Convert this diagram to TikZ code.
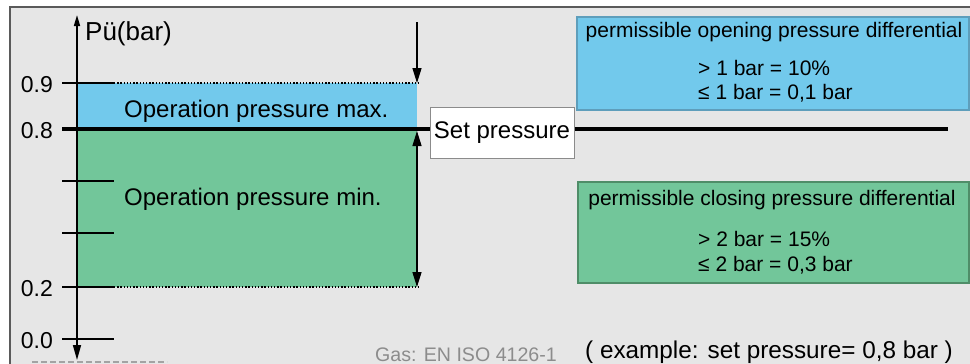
\documentclass[tikz,border=0pt]{standalone}
\usepackage{fontspec}
\setmainfont{Liberation Sans}
\usetikzlibrary{arrows.meta}
\definecolor{bg}{HTML}{E6E6E6}
\definecolor{frame}{HTML}{5A5A5A}
\definecolor{maxfill}{HTML}{72C9EC}
\definecolor{minfill}{HTML}{72C69A}
\definecolor{maxedge}{HTML}{5E9EBB}
\definecolor{minedge}{HTML}{4F8D68}
\definecolor{muted}{HTML}{8C8C8C}
\tikzset{
  frameline/.style={draw=frame, line width=1.2pt},
  axis/.style={draw=black, line width=1.6pt, {Triangle[length=15pt,width=8pt]}-{Triangle[length=11pt,width=6pt]}},
  tick/.style={draw=black, line width=1.6pt},
  setline/.style={draw=black, line width=4pt},
  limit/.style={draw=black, line width=1.4pt, dash pattern=on 1.4pt off 1.8pt},
  span/.style={draw=black, line width=1.4pt, -{Triangle[length=15pt,width=9pt]}},
  spanboth/.style={draw=black, line width=1.4pt, {Triangle[length=15pt,width=9pt]}-{Triangle[length=15pt,width=9pt]}},
  zero/.style={draw=muted!80, line width=1.5pt, dash pattern=on 6pt off 3pt},
  lab/.style={text=black, inner sep=0pt, font=\fontsize{24}{28}\selectfont},
  num/.style={text=black, inner sep=0pt, font=\fontsize{23}{27}\selectfont},
  info/.style={text=black, inner sep=0pt, font=\fontsize{21}{25}\selectfont},
  tag/.style={draw=frame!70, fill=white, line width=1pt, minimum width=144pt, minimum height=51pt, inner sep=0pt, font=\fontsize{24}{28}\selectfont},
  maxbox/.style={draw=maxedge, fill=maxfill, line width=1.2pt, minimum width=392pt, minimum height=93pt},
  minbox/.style={draw=minedge, fill=minfill, line width=1.2pt, minimum width=391pt, minimum height=101pt},
}
\begin{document}
\begin{tikzpicture}[x=1pt,y=-1pt]
  \useasboundingbox (0,0) rectangle (970,364);
  \fill[bg] (10,7) rectangle (975,370);
  \draw[frameline] (10,370) -- (10,7) -- (975,7);
  % bands
  \fill[maxfill] (77,83) rectangle (417,129);
  \fill[minfill] (77,129) rectangle (417,287);
  \draw[limit] (114,83) -- (421,83);
  \draw[limit] (114,287) -- (421,287);
  \foreach \y in {83,181,233,287,339} \draw[tick] (62,\y) -- (114,\y);
  \foreach \y/\v in {83/0.9,129/0.8,287/0.2,339/0.0}
    \node[num, anchor=base east] (n\y) at (53,{\y+9}) {\v};
  % axis
  \coordinate (Y0) at (77,360);
  \coordinate (Y1) at (77,15);
  \draw[axis] (Y0) -- (Y1);
  \node[lab, anchor=base west, font=\fontsize{26}{30}\selectfont] (pu) at (85,40) {Pü(bar)};
  % set pressure
  \node[tag] (setp) at (502,132.5) {Set pressure};
  \coordinate (S0) at (62,129);
  \coordinate (S1) at (948,129);
  \draw[setline] (S0) -- (S0 -| setp.west);
  \draw[setline] (S1 -| setp.east) -- (S1);
  % differentials
  \coordinate (A0) at (417,22);
  \coordinate (A1) at (417,83);
  \coordinate (B0) at (417,131);
  \coordinate (B1) at (417,287);
  \draw[span] (A0) -- (A1);
  \draw[spanboth] (B0) -- (B1);
  \node[lab, anchor=base west] (opmax) at (124,117) {Operation pressure max.};
  \node[lab, anchor=base west] (opmin) at (124,205) {Operation pressure min.};
  % right boxes
  \node[maxbox] (openbox) at (773,63.5) {};
  \node[info, anchor=base] (opent) at (774,37) {permissible opening pressure differential};
  \node[info, anchor=base west] (open1) at (698,75) {> 1 bar = 10\%};
  \node[info, anchor=base west] (open2) at (698,99) {≤ 1 bar = 0,1 bar};
  \node[minbox] (closebox) at (773.5,232.5) {};
  \node[info, anchor=base] (closet) at (772,205) {permissible closing pressure differential};
  \node[info, anchor=base west] (close1) at (698,246) {> 2 bar = 15\%};
  \node[info, anchor=base west] (close2) at (698,271) {≤ 2 bar = 0,3 bar};
  % footer
  \coordinate (Z0) at (32,362);
  \coordinate (Z1) at (167,362);
  \draw[zero] (Z0) -- (Z1);
  \node[inner sep=0pt, anchor=base, text=muted, font=\fontsize{19.6}{23}\selectfont] (norm) at (466,361) {Gas: EN ISO 4126-1};
  \node[lab, anchor=base, font=\fontsize{24.3}{28}\selectfont] (example) at (769,358) {( example: set pressure= 0,8 bar )};
\end{tikzpicture}
\end{document}
